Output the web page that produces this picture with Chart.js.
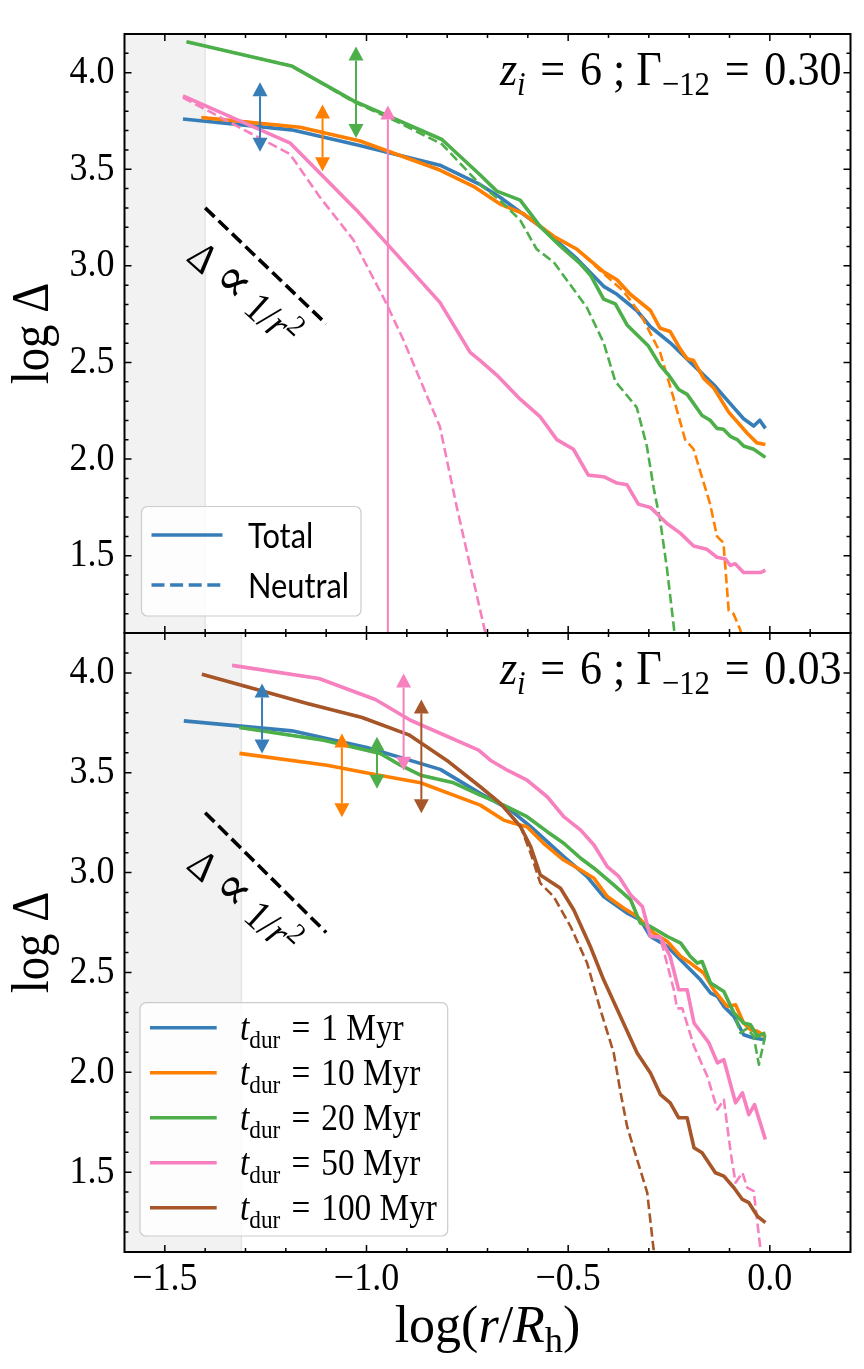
<!DOCTYPE html>
<html><head><meta charset="utf-8">
<script src="https://cdn.jsdelivr.net/npm/chart.js@4.4.1/dist/chart.umd.min.js"></script>
<style>
html,body{margin:0;padding:0;background:#fff;}
#wrap{position:relative;width:864px;height:1369px;overflow:hidden;}
canvas{position:absolute;left:0;top:0;}
</style>
</head><body>
<div id="wrap"><canvas id="c1" width="864" height="1369"></canvas><canvas id="c2" width="864" height="1369"></canvas></div>
<script>
// ---------------- axes / ticks ----------------
const X_MIN = -1.6, X_MAX = 0.2, Y_MIN = 1.1, Y_MAX = 4.2;
const X_TICKS = [-1.5, -1.0, -0.5, 0.0];
const Y_TICKS = [1.5, 2.0, 2.5, 3.0, 3.5, 4.0];
const MINOR_STEP = 0.1;
const TOP_LABEL_GAMMA = '0.30';
const BOT_LABEL_GAMMA = '0.03';
const TOP_LEGEND = ['Total', 'Neutral'];
const T_DUR = ['1', '10', '20', '50', '100'];

const C_BLUE = '#377eb8', C_ORANGE = '#ff7f00', C_GREEN = '#4daf4a', C_PINK = '#f781bf', C_BROWN = '#a65628';
const DUR_COLORS = [C_BLUE, C_ORANGE, C_GREEN, C_PINK, C_BROWN];

// shaded (unresolved) region upper edge
const TOP_SHADE_MAX = -1.40;
const BOT_SHADE_MAX = -1.31;

// 1/r^2 guide line
const SLOPE_X = [-1.4, -1.1];
const SLOPE_Y = [3.3, 2.7];

// ---------------- top panel (Gamma_-12 = 0.30) ----------------
const TOP_BLUE_X = [-1.455,-1.186,-1.022,-0.818,-0.718,-0.669,-0.569,-0.478,-0.412,-0.379,-0.330,-0.296,-0.247,-0.189,-0.139,-0.090,-0.065,-0.040,-0.025,-0.011];
const TOP_BLUE_Y = [3.760,3.704,3.625,3.521,3.420,3.355,3.203,3.036,2.894,2.853,2.769,2.685,2.602,2.485,2.385,2.268,2.209,2.171,2.201,2.159];

const TOP_ORANGE_X = [-1.409,-1.165,-1.016,-0.818,-0.735,-0.669,-0.611,-0.536,-0.478,-0.412,-0.379,-0.346,-0.296,-0.272,-0.247,-0.222,-0.205,-0.189,-0.164,-0.139,-0.102,-0.056,-0.032,-0.011];
const TOP_ORANGE_Y = [3.768,3.717,3.646,3.496,3.412,3.320,3.270,3.153,3.086,2.969,2.928,2.853,2.769,2.677,2.660,2.569,2.519,2.510,2.418,2.368,2.243,2.134,2.084,2.076];
const TOP_ORANGE_N_X = [-1.409,-1.165,-1.016,-0.818,-0.735,-0.669,-0.611,-0.536,-0.478,-0.412,-0.363,-0.321,-0.272,-0.239,-0.210,-0.189,-0.148,-0.131,-0.115,-0.102,-0.090,-0.073,-0.060];
const TOP_ORANGE_N_Y = [3.768,3.717,3.646,3.496,3.412,3.320,3.270,3.153,3.086,2.960,2.869,2.752,2.552,2.318,2.101,2.051,1.767,1.600,1.567,1.216,1.199,1.116,0.950];

const TOP_GREEN_X = [-1.446,-1.186,-1.033,-0.813,-0.718,-0.677,-0.619,-0.569,-0.520,-0.470,-0.445,-0.412,-0.383,-0.354,-0.301,-0.272,-0.251,-0.226,-0.205,-0.168,-0.148,-0.131,-0.115,-0.098,-0.081,-0.065,-0.040,-0.011];
const TOP_GREEN_Y = [4.160,4.035,3.855,3.654,3.470,3.387,3.340,3.203,3.103,3.011,2.953,2.828,2.803,2.694,2.585,2.485,2.435,2.360,2.335,2.226,2.201,2.159,2.154,2.118,2.101,2.068,2.051,2.009];
const TOP_GREEN_N_X = [-1.446,-1.186,-1.033,-0.933,-0.813,-0.718,-0.668,-0.619,-0.578,-0.536,-0.454,-0.412,-0.383,-0.330,-0.305,-0.288,-0.272,-0.255,-0.239,-0.230];
const TOP_GREEN_N_Y = [4.160,4.035,3.850,3.755,3.630,3.420,3.337,3.237,3.086,3.020,2.786,2.602,2.402,2.268,2.068,1.851,1.683,1.433,1.149,0.970];

const TOP_PINK_X = [-1.455,-1.190,-1.024,-0.818,-0.743,-0.718,-0.677,-0.619,-0.569,-0.528,-0.487,-0.450,-0.412,-0.379,-0.354,-0.326,-0.296,-0.255,-0.222,-0.189,-0.156,-0.131,-0.110,-0.098,-0.086,-0.065,-0.040,-0.023,-0.011];
const TOP_PINK_Y = [3.880,3.637,3.287,2.811,2.552,2.510,2.435,2.310,2.218,2.101,2.051,1.917,1.909,1.876,1.867,1.767,1.750,1.667,1.617,1.550,1.533,1.492,1.483,1.450,1.458,1.413,1.413,1.413,1.425];
const TOP_PINK_N_X = [-1.455,-1.190,-1.115,-1.033,-0.954,-0.909,-0.818,-0.776,-0.706,-0.690];
const TOP_PINK_N_Y = [3.871,3.579,3.354,3.136,2.819,2.619,2.168,1.750,1.107,0.965];

const TOP_ARROW_X  = [-1.264, -1.109, -1.026, -0.947];
const TOP_ARROW_LO = [3.591, 3.490, 3.662, 1.000];
const TOP_ARROW_HI = [3.950, 3.835, 4.135, 3.830];
const TOP_ARROW_BOTH = [true, true, true, false];
const TOP_ARROW_COL = [C_BLUE, C_ORANGE, C_GREEN, C_PINK];

// ---------------- bottom panel (Gamma_-12 = 0.03) ----------------
const BOT_BLUE_X = [-1.453,-1.185,-0.999,-0.817,-0.718,-0.643,-0.593,-0.511,-0.453,-0.412,-0.354,-0.321,-0.296,-0.254,-0.205,-0.172,-0.147,-0.130,-0.114,-0.089,-0.065,-0.040,-0.011];
const BOT_BLUE_Y = [3.760,3.710,3.627,3.517,3.397,3.313,3.230,3.080,2.980,2.880,2.797,2.763,2.680,2.630,2.530,2.463,2.397,2.380,2.330,2.280,2.188,2.172,2.163];

const BOT_ORANGE_X = [-1.315,-1.098,-0.982,-0.866,-0.718,-0.660,-0.635,-0.602,-0.561,-0.511,-0.469,-0.436,-0.403,-0.362,-0.329,-0.288,-0.254,-0.221,-0.197,-0.164,-0.139,-0.106,-0.085,-0.065,-0.048,-0.031,-0.011];
const BOT_ORANGE_Y = [3.597,3.538,3.493,3.450,3.338,3.263,3.247,3.230,3.147,3.063,3.013,2.972,2.880,2.822,2.780,2.697,2.655,2.580,2.547,2.497,2.413,2.330,2.338,2.247,2.213,2.205,2.180];

const BOT_GREEN_X = [-1.315,-1.106,-0.966,-0.916,-0.866,-0.784,-0.718,-0.660,-0.602,-0.552,-0.511,-0.469,-0.436,-0.387,-0.345,-0.321,-0.296,-0.254,-0.221,-0.197,-0.180,-0.168,-0.147,-0.114,-0.089,-0.065,-0.048,-0.031,-0.011];
const BOT_GREEN_Y = [3.727,3.663,3.597,3.538,3.488,3.450,3.388,3.338,3.280,3.205,3.147,3.072,3.022,2.938,2.863,2.747,2.730,2.680,2.647,2.580,2.547,2.555,2.447,2.405,2.297,2.247,2.238,2.180,2.197];
const BOT_GREEN_N_X = [-1.315,-1.106,-0.966,-0.916,-0.866,-0.784,-0.718,-0.660,-0.602,-0.552,-0.511,-0.469,-0.436,-0.387,-0.345,-0.321,-0.296,-0.254,-0.221,-0.197,-0.180,-0.168,-0.147,-0.114,-0.089,-0.073,-0.056,-0.040,-0.027,-0.011];
const BOT_GREEN_N_Y = [3.727,3.663,3.597,3.538,3.488,3.450,3.388,3.338,3.280,3.205,3.147,3.072,3.022,2.938,2.863,2.747,2.730,2.680,2.647,2.580,2.547,2.555,2.447,2.405,2.297,2.197,2.220,2.180,2.038,2.188];

const BOT_PINK_X = [-1.333,-1.118,-0.978,-0.891,-0.722,-0.693,-0.651,-0.602,-0.552,-0.511,-0.469,-0.436,-0.403,-0.374,-0.345,-0.316,-0.296,-0.272,-0.247,-0.226,-0.205,-0.188,-0.151,-0.130,-0.114,-0.085,-0.068,-0.052,-0.038,-0.011];
const BOT_PINK_Y = [4.038,3.972,3.867,3.763,3.613,3.563,3.513,3.463,3.380,3.280,3.213,3.138,3.030,2.980,2.888,2.830,2.680,2.677,2.580,2.413,2.413,2.247,2.147,2.047,2.063,1.847,1.897,1.788,1.838,1.663];
const BOT_PINK_N_X = [-1.333,-1.118,-0.978,-0.891,-0.722,-0.693,-0.651,-0.602,-0.552,-0.511,-0.469,-0.436,-0.403,-0.374,-0.345,-0.316,-0.296,-0.272,-0.238,-0.230,-0.217,-0.188,-0.155,-0.130,-0.114,-0.097,-0.085,-0.068,-0.056,-0.040,-0.023,-0.018];
const BOT_PINK_N_Y = [4.038,3.972,3.867,3.763,3.613,3.563,3.513,3.463,3.380,3.280,3.213,3.138,3.030,2.980,2.888,2.830,2.680,2.677,2.413,2.320,2.320,2.130,1.980,1.813,1.863,1.597,1.447,1.497,1.422,1.405,1.110,0.950];

const BOT_BROWN_X = [-1.408,-1.147,-1.011,-0.895,-0.796,-0.718,-0.668,-0.618,-0.593,-0.569,-0.519,-0.486,-0.445,-0.412,-0.378,-0.329,-0.296,-0.271,-0.247,-0.226,-0.205,-0.188,-0.168,-0.135,-0.114,-0.089,-0.068,-0.052,-0.031,-0.011];
const BOT_BROWN_Y = [3.993,3.847,3.777,3.690,3.555,3.430,3.347,3.230,3.130,2.988,2.922,2.813,2.630,2.463,2.313,2.097,1.997,1.888,1.847,1.772,1.772,1.622,1.597,1.497,1.480,1.422,1.363,1.347,1.280,1.247];
const BOT_BROWN_N_X = [-1.408,-1.147,-1.011,-0.895,-0.796,-0.718,-0.668,-0.618,-0.593,-0.569,-0.536,-0.494,-0.453,-0.420,-0.387,-0.370,-0.354,-0.329,-0.304,-0.288,-0.285];
const BOT_BROWN_N_Y = [3.993,3.847,3.777,3.690,3.555,3.430,3.347,3.230,3.097,2.947,2.880,2.730,2.547,2.313,2.097,1.897,1.730,1.563,1.397,1.110,0.950];

const BOT_ARROW_X  = [-1.259, -1.061, -0.974, -0.908, -0.864];
const BOT_ARROW_LO = [3.597, 3.277, 3.420, 3.510, 3.297];
const BOT_ARROW_HI = [3.947, 3.697, 3.680, 3.997, 3.867];
const BOT_ARROW_BOTH = [true, true, true, true, true];
const BOT_ARROW_COL = [C_BLUE, C_ORANGE, C_GREEN, C_PINK, C_BROWN];

// annotation anchor (data coordinates) for the 1/r^2 label
const SLOPE_LABEL_X = -1.327, SLOPE_LABEL_Y = 2.801;

// ---------------- rendering helpers ----------------
const SERIF = '"Liberation Serif", "DejaVu Serif", serif';
const SANS = 'Lato, "DejaVu Sans", sans-serif';
const SX = 0.9;             // horizontal glyph compression
const W_TOT = 3.6, W_NEU = 2.6;
const DASH_NEU = [9.6, 4.2];

function prepCtx(canvas) {
  const ctx = canvas.getContext('2d');
  const orig = CanvasRenderingContext2D.prototype.fillText;
  ctx.fillText = function (t, x, y) {
    const s = (this._sx === undefined) ? SX : this._sx;
    this.save();
    this.translate(x, y);
    this.scale(s, 1);
    orig.call(this, t, 0, 0);
    this.restore();
  };
  return ctx;
}

function drawRich(ctx, segs, x, y, o) {
  const size = o.size, fam = o.family || SERIF, sx = (o.sx === undefined) ? SX : o.sx;
  const prev = ctx._sx;
  ctx.save();
  ctx._sx = sx;
  ctx.translate(x, y);
  if (o.rot) ctx.rotate(o.rot);
  ctx.textAlign = 'left';
  ctx.textBaseline = 'alphabetic';
  ctx.fillStyle = o.color || '#000';
  const parts = segs.map(s => {
    const fs = ((s.sub || s.sup) ? size * 0.7 : size) * (s.k || 1);
    const f = (s.i ? 'italic ' : '') + fs + 'px ' + fam;
    ctx.font = f;
    return { t: s.t, f, w: ctx.measureText(s.t).width * sx, dy: s.sub ? size * 0.2 : (s.sup ? -size * 0.38 : 0) };
  });
  const W = parts.reduce((a, p) => a + p.w, 0);
  let cx = o.align === 'right' ? -W : (o.align === 'center' ? -W / 2 : 0);
  for (const p of parts) { ctx.font = p.f; ctx.fillText(p.t, cx, p.dy); cx += p.w; }
  ctx.restore();
  ctx._sx = prev;
}

function roundRect(ctx, x, y, w, h, r) {
  ctx.beginPath();
  ctx.moveTo(x + r, y);
  ctx.arcTo(x + w, y, x + w, y + h, r);
  ctx.arcTo(x + w, y + h, x, y + h, r);
  ctx.arcTo(x, y + h, x, y, r);
  ctx.arcTo(x, y, x + w, y, r);
  ctx.closePath();
}

function series(xs, ys, color, neutral) {
  return {
    data: xs.map((x, i) => ({ x: x, y: ys[i] })),
    borderColor: color,
    backgroundColor: color,
    borderWidth: neutral ? W_NEU : W_TOT,
    borderDash: neutral ? DASH_NEU : [],
    pointRadius: 0, pointHoverRadius: 0,
    tension: 0, fill: false, clip: 0,
    borderJoinStyle: 'round', borderCapStyle: 'butt'
  };
}
function slopeLine() {
  return {
    data: SLOPE_X.map((x, i) => ({ x: x, y: SLOPE_Y[i] })),
    borderColor: '#000', borderWidth: 3.6, borderDash: [13, 5.6],
    pointRadius: 0, tension: 0, fill: false, clip: 0, borderCapStyle: 'butt'
  };
}

function fmtTick(v) {
  const s = Math.abs(v).toFixed(1);
  return v < -1e-9 ? '\u2212' + s : s;
}

function drawArrow(ctx, px, pLo, pHi, color, both) {
  const HL = 14, HW = 7.5;
  ctx.strokeStyle = color; ctx.fillStyle = color; ctx.lineWidth = 2;
  ctx.beginPath();
  ctx.moveTo(px, both ? pLo - HL : pLo);
  ctx.lineTo(px, pHi + HL);
  ctx.stroke();
  ctx.beginPath();
  ctx.moveTo(px, pHi); ctx.lineTo(px - HW, pHi + HL); ctx.lineTo(px + HW, pHi + HL); ctx.closePath(); ctx.fill();
  if (both) {
    ctx.beginPath();
    ctx.moveTo(px, pLo); ctx.lineTo(px - HW, pLo - HL); ctx.lineTo(px + HW, pLo - HL); ctx.closePath(); ctx.fill();
  }
}

function drawFrame(chart) {
  const { ctx, chartArea: a, scales: { x, y } } = chart;
  ctx.save();
  ctx.strokeStyle = '#000';
  ctx.lineWidth = 1.5;
  ctx.beginPath();
  const nx = Math.round((X_MAX - X_MIN) / MINOR_STEP);
  for (let k = 1; k < nx; k++) {
    const v = X_MIN + k * MINOR_STEP;
    const major = X_TICKS.some(t => Math.abs(t - v) < 1e-6);
    const L = major ? 7 : 4;
    const px = x.getPixelForValue(v);
    ctx.moveTo(px, a.bottom); ctx.lineTo(px, a.bottom - L);
    ctx.moveTo(px, a.top); ctx.lineTo(px, a.top + L);
  }
  const ny = Math.round((Y_MAX - Y_MIN) / MINOR_STEP);
  for (let k = 1; k < ny; k++) {
    const v = Y_MIN + k * MINOR_STEP;
    const major = Y_TICKS.some(t => Math.abs(t - v) < 1e-6);
    const L = major ? 7 : 4;
    const py = y.getPixelForValue(v);
    ctx.moveTo(a.left, py); ctx.lineTo(a.left + L, py);
    ctx.moveTo(a.right, py); ctx.lineTo(a.right - L, py);
  }
  ctx.stroke();
  ctx.lineWidth = 2;
  ctx.strokeRect(a.left, a.top, a.right - a.left, a.bottom - a.top);
  ctx.restore();
}

function panelPlugin(P) {
  return {
    id: 'panel' + P.id,
    beforeDatasetsDraw(chart) {
      const { ctx, chartArea: a, scales: { x } } = chart;
      const xs = x.getPixelForValue(P.shadeMax);
      ctx.save();
      ctx.fillStyle = '#f2f2f2';
      ctx.fillRect(a.left, a.top, xs - a.left, a.bottom - a.top);
      ctx.strokeStyle = '#e3e3e3'; ctx.lineWidth = 1.3;
      ctx.beginPath(); ctx.moveTo(xs, a.top); ctx.lineTo(xs, a.bottom); ctx.stroke();
      ctx.restore();
    },
    afterDatasetsDraw(chart) {
      const { ctx, chartArea: a, scales: { x, y } } = chart;
      ctx.save();
      ctx.beginPath(); ctx.rect(a.left, a.top, a.right - a.left, a.bottom - a.top); ctx.clip();
      for (let i = 0; i < P.arrowX.length; i++) {
        drawArrow(ctx, x.getPixelForValue(P.arrowX[i]), y.getPixelForValue(P.arrowLo[i]),
          y.getPixelForValue(P.arrowHi[i]), P.arrowCol[i], P.arrowBoth[i]);
      }
      ctx.restore();
      drawFrame(chart);
    },
    afterDraw(chart) {
      const { ctx, chartArea: a, scales: { x, y } } = chart;
      // panel label
      drawRich(ctx, [{ t: 'z', i: 1 }, { t: 'i', i: 1, sub: 1 }, { t: '\u2004=\u20046 ; ' }, { t: '\u0393' },
        { t: '\u221212', sub: 1 }, { t: '\u2004=\u2004' + P.gamma }], a.right - 9, a.top + 51, { size: 49, align: 'right' });
      // 1/r^2 annotation
      drawRich(ctx, [{ t: '\u0394 ' }, { t: '\u221D', k: 1.3 }, { t: ' 1/' }, { t: 'r', i: 1 }, { t: '2', sup: 1 }],
        x.getPixelForValue(SLOPE_LABEL_X), y.getPixelForValue(SLOPE_LABEL_Y), { size: 42, align: 'center', rot: 42 * Math.PI / 180 });
      if (P.legend === 'top') {
        const bx = a.left + 17, by = a.bottom - 126.5, bw = 219.5, bh = 109.5;
        ctx.save();
        roundRect(ctx, bx, by, bw, bh, 6);
        ctx.fillStyle = 'rgba(255,255,255,0.8)'; ctx.fill();
        ctx.strokeStyle = '#cccccc'; ctx.lineWidth = 1.2; ctx.stroke();
        for (let k = 0; k < TOP_LEGEND.length; k++) {
          const ly = by + 28.5 + k * 50;
          ctx.strokeStyle = C_BLUE; ctx.lineWidth = 3.6;
          ctx.setLineDash(k === 0 ? [] : [13, 5.6]);
          ctx.beginPath(); ctx.moveTo(a.left + 27, ly); ctx.lineTo(a.left + 98, ly); ctx.stroke();
          ctx.setLineDash([]);
          drawRich(ctx, [{ t: TOP_LEGEND[k] }], a.left + 123.5, ly + 13, { size: 35, family: SANS, sx: 0.88 });
        }
        ctx.restore();
      } else {
        const bx = a.left + 15.5, by = a.bottom - 249.3, bw = 307.7, bh = 233.3;
        ctx.save();
        roundRect(ctx, bx, by, bw, bh, 6);
        ctx.fillStyle = 'rgba(255,255,255,0.8)'; ctx.fill();
        ctx.strokeStyle = '#cccccc'; ctx.lineWidth = 1.2; ctx.stroke();
        for (let k = 0; k < T_DUR.length; k++) {
          const ly = by + 25 + k * 45;
          ctx.strokeStyle = DUR_COLORS[k]; ctx.lineWidth = 3.6;
          ctx.beginPath(); ctx.moveTo(a.left + 25.5, ly); ctx.lineTo(a.left + 92.2, ly); ctx.stroke();
          drawRich(ctx, [{ t: 't', i: 1 }, { t: 'dur', sub: 1 }, { t: '\u2004=\u2004' + T_DUR[k] + ' Myr' }],
            a.left + 115.5, ly + 12.5, { size: 37 });
        }
        ctx.restore();
        // x axis title
        drawRich(ctx, [{ t: 'log(' }, { t: 'r', i: 1 }, { t: '/' }, { t: 'R', i: 1 }, { t: 'h', sub: 1 }, { t: ')' }],
          (a.left + a.right) / 2, a.bottom + 90, { size: 52, align: 'center', sx: 1.0 });
      }
    }
  };
}

function makeChart(canvasId, P, datasets, showX) {
  const ctx = prepCtx(document.getElementById(canvasId));
  datasets.forEach((d, i) => { d.order = -i; });
  return new Chart(ctx, {
    type: 'line',
    data: { datasets },
    options: {
      responsive: false, animation: false, devicePixelRatio: 1,
      layout: { padding: P.padding },
      plugins: { legend: { display: false }, tooltip: { enabled: false }, title: { display: false } },
      scales: {
        x: {
          type: 'linear', min: X_MIN, max: X_MAX,
          afterBuildTicks: s => { s.ticks = X_TICKS.map(v => ({ value: v })); },
          afterFit: s => { s.height = showX ? 117 : 0; },
          grid: { display: false, drawTicks: false }, border: { display: false },
          ticks: { display: showX, callback: v => fmtTick(v), autoSkip: false, maxRotation: 0, padding: 3,
            color: '#000', font: { family: SERIF, size: 40 } }
        },
        y: {
          type: 'linear', min: Y_MIN, max: Y_MAX,
          afterBuildTicks: s => { s.ticks = Y_TICKS.map(v => ({ value: v })); },
          afterFit: s => { s.width = 124.5; },
          grid: { display: false, drawTicks: false }, border: { display: false },
          ticks: { callback: v => fmtTick(v), autoSkip: false, padding: 10, color: '#000',
            font: { family: SERIF, size: 40 } },
          title: { display: true, text: 'log \u0394', color: '#000', font: { family: SERIF, size: 52 },
            padding: { top: 3, bottom: 0 } }
        }
      }
    },
    plugins: [panelPlugin(P)]
  });
}

makeChart('c1', {
  id: 'top', shadeMax: TOP_SHADE_MAX, gamma: TOP_LABEL_GAMMA, legend: 'top',
  padding: { left: 0, right: 13.5, top: 14.4, bottom: 736 },
  arrowX: TOP_ARROW_X, arrowLo: TOP_ARROW_LO, arrowHi: TOP_ARROW_HI, arrowBoth: TOP_ARROW_BOTH, arrowCol: TOP_ARROW_COL
}, [
  series(TOP_BLUE_X, TOP_BLUE_Y, C_BLUE, false),
  series(TOP_ORANGE_X, TOP_ORANGE_Y, C_ORANGE, false),
  series(TOP_ORANGE_N_X, TOP_ORANGE_N_Y, C_ORANGE, true),
  series(TOP_GREEN_X, TOP_GREEN_Y, C_GREEN, false),
  series(TOP_GREEN_N_X, TOP_GREEN_N_Y, C_GREEN, true),
  series(TOP_PINK_X, TOP_PINK_Y, C_PINK, false),
  series(TOP_PINK_N_X, TOP_PINK_N_Y, C_PINK, true),
  slopeLine()
], false);

makeChart('c2', {
  id: 'bot', shadeMax: BOT_SHADE_MAX, gamma: BOT_LABEL_GAMMA, legend: 'bottom',
  padding: { left: 0, right: 13.5, top: 633, bottom: 0 },
  arrowX: BOT_ARROW_X, arrowLo: BOT_ARROW_LO, arrowHi: BOT_ARROW_HI, arrowBoth: BOT_ARROW_BOTH, arrowCol: BOT_ARROW_COL
}, [
  series(BOT_BLUE_X, BOT_BLUE_Y, C_BLUE, false),
  series(BOT_ORANGE_X, BOT_ORANGE_Y, C_ORANGE, false),
  series(BOT_GREEN_X, BOT_GREEN_Y, C_GREEN, false),
  series(BOT_GREEN_N_X, BOT_GREEN_N_Y, C_GREEN, true),
  series(BOT_PINK_X, BOT_PINK_Y, C_PINK, false),
  series(BOT_PINK_N_X, BOT_PINK_N_Y, C_PINK, true),
  series(BOT_BROWN_X, BOT_BROWN_Y, C_BROWN, false),
  series(BOT_BROWN_N_X, BOT_BROWN_N_Y, C_BROWN, true),
  slopeLine()
], true);
</script>
</body></html>
